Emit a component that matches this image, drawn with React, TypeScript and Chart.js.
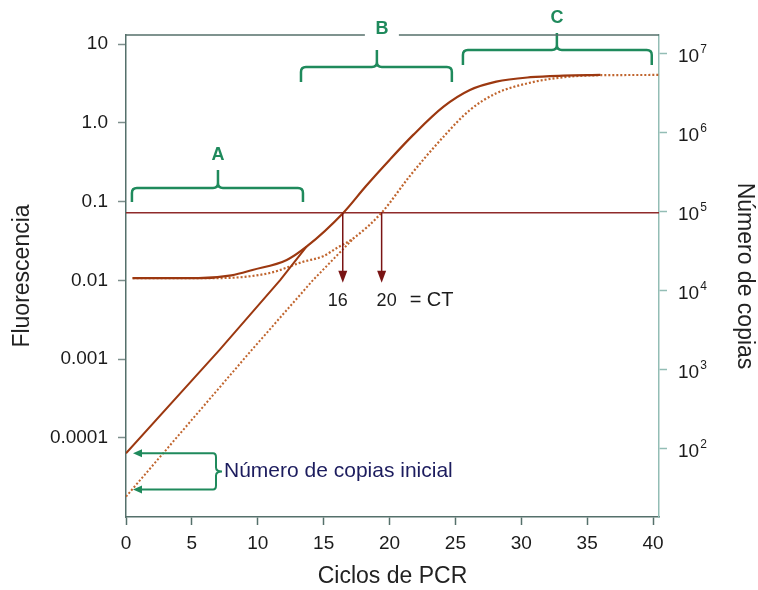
import { useEffect, useRef } from "react";
import { Chart, registerables } from "chart.js";

Chart.register(...registerables);

// ---------------- data ----------------
const xTicks = [0, 5, 10, 15, 20, 25, 30, 35, 40];
const fluorTicks = [10, 1, 0.1, 0.01, 0.001, 0.0001];
const fluorTickLabels = ["10", "1.0", "0.1", "0.01", "0.001", "0.0001"];
const copyTicks = [1e2, 1e3, 1e4, 1e5, 1e6, 1e7];
const copyTickExponents = ["2", "3", "4", "5", "6", "7"];

// sample 1 (solid line, CT 16)
const solidObsCycles = [0.5, 5.5, 8.0, 9.6, 12.2, 13.7, 16.5, 18.2, 20.0, 21.8, 24.1, 26.1, 28.1, 30.7, 33.2, 36.0];
const solidObsFluor = [0.0107, 0.0107, 0.0116, 0.01355, 0.0182, 0.0268, 0.0725, 0.157, 0.339, 0.705, 1.61, 2.62, 3.35, 3.81, 3.99, 4.07];
const solidExpCycles = [0, 7.1, 11.7, 13.7];
const solidExpFluor = [6.35e-5, 1.31e-3, 0.0101, 0.0268];

// sample 2 (dotted line, CT 20)
const dottedObsCycles = [0.5, 7.0, 10.9, 13.4, 15.0, 16.0, 17.3, 19.4, 21.6, 24.1, 26.1, 28.1, 30.7, 33.2, 36.0, 40.4];
const dottedObsFluor = [0.0107, 0.0107, 0.0124, 0.01714, 0.0204, 0.0258, 0.0346, 0.0725, 0.218, 0.67, 1.46, 2.38, 3.25, 3.81, 4.04, 4.07];
const dottedExpCycles = [0, 9.6, 14.2, 17.3];
const dottedExpFluor = [1.79e-5, 1.34e-3, 0.0101, 0.0346];

const thresholdFluor = 0.0725;
const ctCrossCycles = [16.45, 19.4];
const ctLabels = ["16", "20"];
const initialFluor = [6.35e-5, 2.2e-5];

const phaseLabels = ["A", "B", "C"];
const phaseStart = [0.45, 13.28, 25.57];
const phaseEnd = [13.43, 24.73, 39.9];
const phaseMid = [6.98, 19.04, 32.7];

// ---------------- styling ----------------
const FONT = "'Liberation Sans', Arial, Helvetica, sans-serif";
const GREEN = "#1f8a5c";
const AXIS_DARK = "#55706b";
const AXIS_LIGHT = "#93bdb5";
const SOLID = "#9c3810";
const DOTTED = "#c0652e";
const THRESH = "#8f2b2b";
const X_MAX = 40.45;

const pts = (xs: number[], ys: number[]) => xs.map((x, i) => ({ x, y: ys[i] }));

function drawBrace(ctx: CanvasRenderingContext2D, x0: number, x1: number, xm: number, yH: number, yEnd: number, yTip: number, r: number) {
  ctx.beginPath();
  ctx.moveTo(x0, yEnd);
  ctx.lineTo(x0, yH + r);
  ctx.quadraticCurveTo(x0, yH, x0 + r, yH);
  ctx.lineTo(xm - r, yH);
  ctx.quadraticCurveTo(xm, yH, xm, yH - r);
  ctx.lineTo(xm, yTip);
  ctx.moveTo(xm, yH - r);
  ctx.quadraticCurveTo(xm, yH, xm + r, yH);
  ctx.lineTo(x1 - r, yH);
  ctx.quadraticCurveTo(x1, yH, x1, yH + r);
  ctx.lineTo(x1, yEnd);
  ctx.stroke();
}

const annotationPlugin = {
  id: "pcrAnnotations",
  afterDraw(chart: any) {
    const { ctx, chartArea: ca, scales } = chart;
    const xs = scales.x;
    const ys = scales.y;
    const y2 = scales.y2;
    ctx.save();

    // right axis tick labels with superscript exponents
    ctx.fillStyle = "#1b1b1b";
    ctx.textAlign = "left";
    ctx.textBaseline = "middle";
    copyTicks.forEach((v, i) => {
      const py = y2.getPixelForValue(v);
      ctx.font = `19px ${FONT}`;
      const bx = ca.right + 19;
      ctx.fillText("10", bx, py + 3);
      const w = ctx.measureText("10").width;
      ctx.font = `12px ${FONT}`;
      ctx.fillText(copyTickExponents[i], bx + w + 1, py - 4);
    });

    // phase brackets
    const bracketGeom = [
      { h: 153, e: 167, t: 135, l: 120 },
      { h: 32, e: 47, t: 15, l: -6 },
      { h: 15, e: 30, t: -2, l: -17 },
    ];
    ctx.strokeStyle = GREEN;
    ctx.lineWidth = 2.5;
    ctx.lineCap = "butt";
    phaseLabels.forEach((lab, i) => {
      const g = bracketGeom[i];
      const x0 = xs.getPixelForValue(phaseStart[i]);
      const x1 = xs.getPixelForValue(phaseEnd[i]);
      const xm = xs.getPixelForValue(phaseMid[i]);
      drawBrace(ctx, x0, x1, xm, ca.top + g.h, ca.top + g.e, ca.top + g.t, 5);
    });

    // top frame line with gap for the "B" label
    const bLabelX = xs.getPixelForValue(phaseMid[1]) + 5;
    ctx.strokeStyle = AXIS_DARK;
    ctx.lineWidth = 1.5;
    ctx.beginPath();
    ctx.moveTo(ca.left, ca.top);
    ctx.lineTo(bLabelX - 17, ca.top);
    ctx.moveTo(bLabelX + 17, ca.top);
    ctx.lineTo(ca.right, ca.top);
    ctx.stroke();

    // phase labels
    ctx.fillStyle = GREEN;
    ctx.font = `bold 18px ${FONT}`;
    ctx.textAlign = "center";
    ctx.textBaseline = "middle";
    phaseLabels.forEach((lab, i) => {
      const g = bracketGeom[i];
      const xm = xs.getPixelForValue(phaseMid[i]) + (i === 1 ? 5 : 0);
      ctx.fillText(lab, xm, ca.top + g.l);
    });

    // CT arrows
    const ty = ys.getPixelForValue(thresholdFluor);
    const ARROW_RED = "#7a1414";
    ctx.strokeStyle = ARROW_RED;
    ctx.fillStyle = ARROW_RED;
    ctx.lineWidth = 1.5;
    ctCrossCycles.forEach((c) => {
      const px = xs.getPixelForValue(c);
      ctx.beginPath();
      ctx.moveTo(px, ty);
      ctx.lineTo(px, ty + 60);
      ctx.stroke();
      ctx.beginPath();
      ctx.moveTo(px - 4.5, ty + 58);
      ctx.lineTo(px + 4.5, ty + 58);
      ctx.lineTo(px, ty + 70);
      ctx.closePath();
      ctx.fill();
    });
    ctx.fillStyle = "#1b1b1b";
    ctx.font = `18px ${FONT}`;
    ctx.textAlign = "center";
    const offs = [-5, 5];
    ctLabels.forEach((lab, i) => {
      const px = xs.getPixelForValue(ctCrossCycles[i]) + offs[i];
      ctx.fillText(lab, px, ty + 88);
    });
    ctx.textAlign = "left";
    ctx.font = `20px ${FONT}`;
    ctx.fillText("= CT", xs.getPixelForValue(ctCrossCycles[1]) + 28, ty + 88);

    // initial copy number arrows and brace
    const ay = initialFluor.map((v) => ys.getPixelForValue(v));
    const tipX = ca.left + 7;
    const endX = ca.left + 87;
    ctx.strokeStyle = GREEN;
    ctx.fillStyle = GREEN;
    ctx.lineWidth = 2;
    ay.forEach((py) => {
      ctx.beginPath();
      ctx.moveTo(tipX + 6, py);
      ctx.lineTo(endX, py);
      ctx.stroke();
      ctx.beginPath();
      ctx.moveTo(tipX, py);
      ctx.lineTo(tipX + 9, py - 4);
      ctx.lineTo(tipX + 9, py + 4);
      ctx.closePath();
      ctx.fill();
    });
    const braceX = endX + 3;
    const midY = (ay[0] + ay[1]) / 2;
    ctx.beginPath();
    ctx.moveTo(endX, ay[0]);
    ctx.quadraticCurveTo(braceX, ay[0], braceX, ay[0] + 4);
    ctx.lineTo(braceX, midY - 4);
    ctx.quadraticCurveTo(braceX, midY, braceX + 6, midY);
    ctx.quadraticCurveTo(braceX, midY, braceX, midY + 4);
    ctx.lineTo(braceX, ay[1] - 4);
    ctx.quadraticCurveTo(braceX, ay[1], endX, ay[1]);
    ctx.stroke();
    ctx.fillStyle = "#1c1c5e";
    ctx.font = `21px ${FONT}`;
    ctx.textAlign = "left";
    ctx.textBaseline = "middle";
    ctx.fillText("Número de copias inicial", braceX + 8, midY);

    ctx.restore();
  },
};

export default function App() {
  const canvasRef = useRef<HTMLCanvasElement | null>(null);

  useEffect(() => {
    document.body.style.margin = "0";
    const canvas = canvasRef.current;
    if (!canvas) return;

    const lineBase = { pointRadius: 0, pointHoverRadius: 0, fill: false };

    const chart = new Chart(canvas, {
      type: "line",
      data: {
        datasets: [
          { ...lineBase, label: "Muestra 1", data: pts(solidObsCycles, solidObsFluor), borderColor: SOLID, borderWidth: 2.2, cubicInterpolationMode: "monotone" },
          { ...lineBase, label: "Muestra 1 exp", data: pts(solidExpCycles, solidExpFluor), borderColor: SOLID, borderWidth: 2, tension: 0 },
          { ...lineBase, label: "Muestra 2", data: pts(dottedObsCycles, dottedObsFluor), borderColor: DOTTED, borderWidth: 2.2, borderDash: [2, 2], cubicInterpolationMode: "monotone" },
          { ...lineBase, label: "Muestra 2 exp", data: pts(dottedExpCycles, dottedExpFluor), borderColor: DOTTED, borderWidth: 2, borderDash: [2, 2], tension: 0 },
          { ...lineBase, label: "Umbral", data: [{ x: 0, y: thresholdFluor }, { x: X_MAX, y: thresholdFluor }], borderColor: THRESH, borderWidth: 1.5, tension: 0 },
        ],
      },
      options: {
        animation: false,
        responsive: false,
        devicePixelRatio: 1,
        layout: { padding: { top: 35, left: 0, right: 0, bottom: 0 } },
        plugins: { legend: { display: false }, tooltip: { enabled: false } },
        scales: {
          x: {
            type: "linear",
            position: "bottom",
            min: 0,
            max: X_MAX,
            afterBuildTicks: (s: any) => { s.ticks = xTicks.map((v) => ({ value: v })); },
            afterFit: (s: any) => { s.height = 73; },
            grid: { drawOnChartArea: false, drawTicks: true, tickLength: 8, tickColor: AXIS_DARK, tickWidth: 1.5 },
            border: { display: true, color: AXIS_DARK, width: 1.5 },
            ticks: { autoSkip: false, maxRotation: 0, padding: 7, color: "#1b1b1b", font: { family: FONT, size: 19 } },
            title: { display: true, text: "Ciclos de PCR", color: "#222", font: { family: FONT, size: 23 }, padding: { top: 0, bottom: 0 } },
          },
          y: {
            type: "logarithmic",
            position: "left",
            min: 9.86e-6,
            max: 13.1,
            afterBuildTicks: (s: any) => { s.ticks = fluorTicks.map((v) => ({ value: v })); },
            afterFit: (s: any) => { s.width = 126; },
            grid: { drawOnChartArea: false, drawTicks: true, tickLength: 8, tickColor: "#7d8f8c", tickWidth: 1.5 },
            border: { display: true, color: AXIS_DARK, width: 1.5 },
            ticks: {
              autoSkip: false,
              padding: 10,
              color: "#1b1b1b",
              font: { family: FONT, size: 19 },
              callback: (v: any) => {
                const i = fluorTicks.findIndex((t) => Math.abs(t - v) / t < 1e-6);
                return i >= 0 ? fluorTickLabels[i] : "";
              },
            },
            title: { display: true, text: "Fluorescencia", color: "#222", font: { family: FONT, size: 23 }, padding: { top: 9, bottom: 0 } },
          },
          y2: {
            type: "logarithmic",
            position: "right",
            min: 13.5,
            max: 1.706e7,
            afterBuildTicks: (s: any) => { s.ticks = copyTicks.map((v) => ({ value: v })); },
            afterFit: (s: any) => { s.width = 99; },
            grid: { drawOnChartArea: false, drawTicks: true, tickLength: 8, tickColor: AXIS_LIGHT, tickWidth: 1.5 },
            border: { display: true, color: AXIS_LIGHT, width: 1.5 },
            ticks: { display: false },
            title: { display: true, text: "Número de copias", color: "#222", font: { family: FONT, size: 23 }, padding: { top: 0, bottom: 0 } },
          },
        },
      } as any,
      plugins: [annotationPlugin],
    });

    return () => chart.destroy();
  }, []);

  return (
    <div style={{ width: 758, height: 590, background: "#fff" }}>
      <canvas ref={canvasRef} width={758} height={590} style={{ display: "block" }} />
    </div>
  );
}
